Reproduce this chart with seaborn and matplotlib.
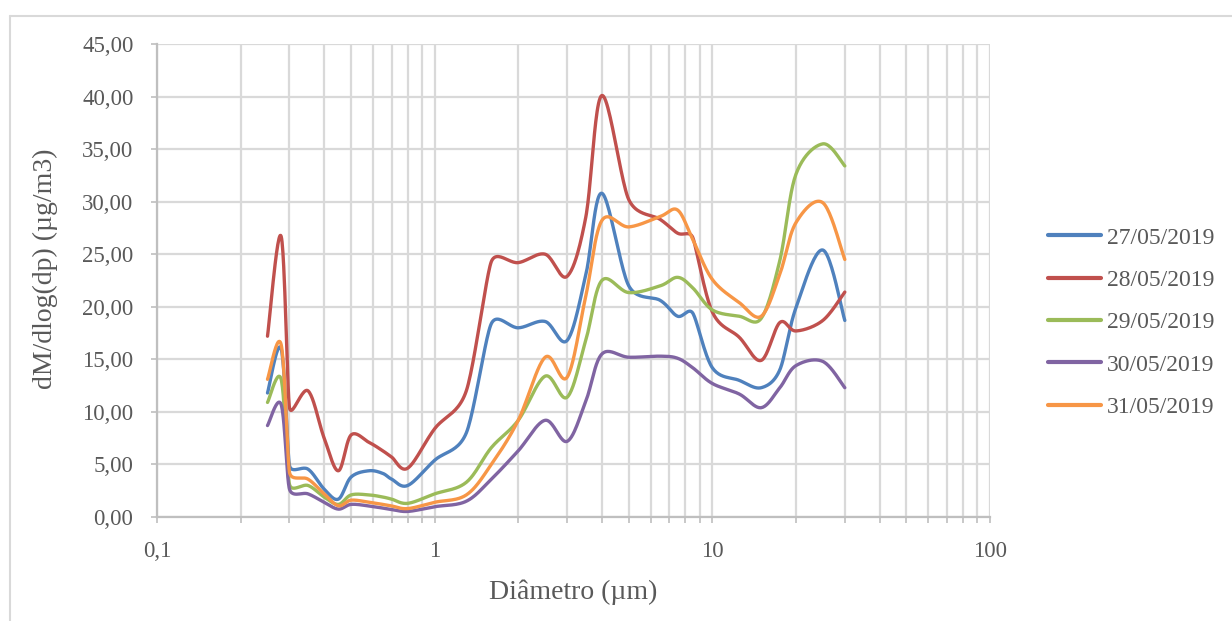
import numpy as np
import pandas as pd
import matplotlib
matplotlib.use("Agg")
import matplotlib.pyplot as plt
import seaborn as sns
from matplotlib.ticker import FuncFormatter, FixedLocator, LogLocator, NullFormatter
from matplotlib.lines import Line2D

# ---------------- data ----------------
diameters = [0.25, 0.28, 0.3, 0.35, 0.4, 0.45, 0.5, 0.58, 0.65, 0.7, 0.8, 1.0, 1.3, 1.6,
             2.0, 2.5, 3.0, 3.5, 4.0, 5.0, 6.5, 7.5, 8.5, 10, 12.5, 15, 17.5, 20, 25, 30]

d27 = [11.8, 16.0, 4.9, 4.55, 2.65, 1.7, 3.8, 4.4, 4.15, 3.6, 3.0, 5.4, 8.0, 18.4,
       18.0, 18.6, 16.8, 23.0, 30.8, 22.0, 20.6, 19.1, 19.4, 14.2, 13.0, 12.3, 14.0, 19.9, 25.4, 18.7]
d28 = [17.2, 26.7, 10.4, 12.0, 7.5, 4.4, 7.8, 7.1, 6.3, 5.7, 4.65, 8.4, 12.0, 24.3,
       24.2, 25.0, 22.9, 28.5, 40.1, 30.2, 28.3, 27.0, 26.6, 19.5, 17.1, 14.9, 18.5, 17.7, 18.7, 21.4]
d29 = [10.9, 13.1, 3.1, 3.0, 1.9, 1.2, 2.1, 2.1, 1.9, 1.7, 1.3, 2.2, 3.3, 6.6,
       9.2, 13.4, 11.4, 16.8, 22.5, 21.35, 22.0, 22.8, 21.8, 19.7, 19.1, 18.9, 24.4, 32.6, 35.5, 33.4]
d30 = [8.7, 10.7, 2.65, 2.2, 1.4, 0.75, 1.2, 1.05, 0.85, 0.72, 0.53, 0.98, 1.5, 3.6,
       6.3, 9.2, 7.2, 11.0, 15.5, 15.2, 15.3, 15.1, 14.2, 12.7, 11.7, 10.4, 12.3, 14.4, 14.8, 12.3]
d31 = [13.1, 16.4, 4.25, 3.6, 2.2, 1.07, 1.6, 1.4, 1.2, 1.05, 0.8, 1.4, 2.1, 5.0,
       9.2, 15.2, 13.3, 21.0, 28.2, 27.6, 28.6, 29.2, 26.4, 22.6, 20.4, 19.1, 23.1, 28.0, 29.9, 24.5]

series_names = ["27/05/2019", "28/05/2019", "29/05/2019", "30/05/2019", "31/05/2019"]
series_values = [d27, d28, d29, d30, d31]
colors = ["#4F81BD", "#C0504D", "#9BBB59", "#8064A2", "#F79646"]

x_tick_vals = [0.1, 1, 10, 100]
x_tick_labels = ["0,1", "1", "10", "100"]

# pixel scales of the plot (for Excel-like smoothing)
PX_PER_DECADE = 277.7
PX_PER_UNIT = 10.51


def smooth(xs, ys, n=24):
    """Excel-style smoothed line: cubic Bezier with limited control arms."""
    P = np.column_stack([np.log10(np.asarray(xs, float)) * PX_PER_DECADE,
                         np.asarray(ys, float) * PX_PER_UNIT])
    m = len(P)
    cin = np.zeros_like(P)
    cout = np.zeros_like(P)
    for i in range(m):
        p0 = P[max(i - 1, 0)]
        p1 = P[i]
        p2 = P[min(i + 1, m - 1)]
        d01 = np.linalg.norm(p1 - p0)
        d12 = np.linalg.norm(p2 - p1)
        d02 = np.linalg.norm(p2 - p0)
        if d02 == 0:
            f = 0.0
        elif d02 / 6 < d12 / 2 and d02 / 6 < d01 / 2:
            f = 1 / 6
        else:
            shorter = min(d01, d12) if (i > 0 and i < m - 1) else max(d01, d12)
            f = min(1 / 6, shorter / (2 * d02))
        cout[i] = p1 + f * (p2 - p0)
        cin[i] = p1 - f * (p2 - p0)
    out = []
    for i in range(m - 1):
        a, b, c, d = P[i], cout[i], cin[i + 1], P[i + 1]
        t = np.linspace(0, 1, n, endpoint=(i == m - 2))[:, None]
        seg = ((1 - t) ** 3) * a + 3 * ((1 - t) ** 2) * t * b + 3 * (1 - t) * t ** 2 * c + t ** 3 * d
        out.append(seg)
    out = np.vstack(out)
    return 10 ** (out[:, 0] / PX_PER_DECADE), out[:, 1] / PX_PER_UNIT


frames = []
for name, vals in zip(series_names, series_values):
    sx, sy = smooth(diameters, vals)
    frames.append(pd.DataFrame({"x": sx, "y": sy, "serie": name}))
df = pd.concat(frames, ignore_index=True)

# ---------------- style ----------------
sns.set_theme(style="white")
plt.rcParams["font.family"] = ["Liberation Serif", "DejaVu Serif"]
text_col = "#595959"
grid_col = "#d9d9d9"

fig = plt.figure(figsize=(12.32, 6.21), dpi=100)
ax = fig.add_axes([157 / 1232, 1 - 517 / 621, (990 - 157) / 1232, (517 - 44) / 621])

sns.lineplot(data=df, x="x", y="y", hue="serie", palette=colors, sort=False,
             estimator=None, units="serie", linewidth=2.4, ax=ax, legend=False)

ax.set_xscale("log")
ax.set_xlim(0.1, 100)
ax.set_ylim(0, 45)
ax.set_yticks(np.arange(0, 46, 5))
ax.yaxis.set_major_formatter(FuncFormatter(lambda v, p: f"{v:.2f}".replace(".", ",")))
ax.xaxis.set_major_locator(FixedLocator(x_tick_vals))
ax.set_xticklabels(x_tick_labels)
ax.xaxis.set_minor_locator(LogLocator(base=10, subs=np.arange(2, 10)))
ax.xaxis.set_minor_formatter(NullFormatter())

ax.grid(True, which="major", axis="both", color=grid_col, linewidth=1.6)
ax.grid(True, which="minor", axis="x", color=grid_col, linewidth=1.6)
ax.set_axisbelow(True)
for s in ["top", "right"]:
    ax.spines[s].set_visible(False)
for s in ["left", "bottom"]:
    ax.spines[s].set_color("#bfbfbf")
    ax.spines[s].set_linewidth(1.6)

ax.tick_params(axis="y", which="major", length=4, width=1.2, color="#bfbfbf", pad=13,
               labelsize=16.5, labelcolor=text_col, left=True)
ax.tick_params(axis="x", which="major", length=4, width=1.2, color="#bfbfbf", pad=13,
               labelsize=16.5, labelcolor=text_col, bottom=True)
ax.tick_params(axis="x", which="minor", length=4, width=1.2, color="#bfbfbf", bottom=True)

ax.set_xlabel("Diâmetro (µm)", fontsize=20, color=text_col)
ax.set_ylabel("dM/dlog(dp) (µg/m3)", fontsize=20, color=text_col)
ax.xaxis.set_label_coords(0.5, -0.133)
ax.yaxis.set_label_coords(-0.119, 0.525)

handles = [Line2D([0], [0], color=c, linewidth=3) for c in colors]
fig.legend(handles, series_names, loc="center left", bbox_to_anchor=(1048 / 1232, 1 - 322.5 / 621),
           frameon=False, fontsize=17, handlelength=2.25, handletextpad=0.25,
           labelspacing=0.88, borderpad=0, borderaxespad=0, labelcolor=text_col)

# outer chart border (Excel chart area)
fig.add_artist(Line2D([10 / 1232, 10 / 1232], [0, 1 - 16 / 621], transform=fig.transFigure,
                      color=grid_col, linewidth=1.5))
fig.add_artist(Line2D([10 / 1232, 1], [1 - 16 / 621, 1 - 16 / 621], transform=fig.transFigure,
                      color=grid_col, linewidth=1.5))

fig.savefig("out.png", dpi=100)
